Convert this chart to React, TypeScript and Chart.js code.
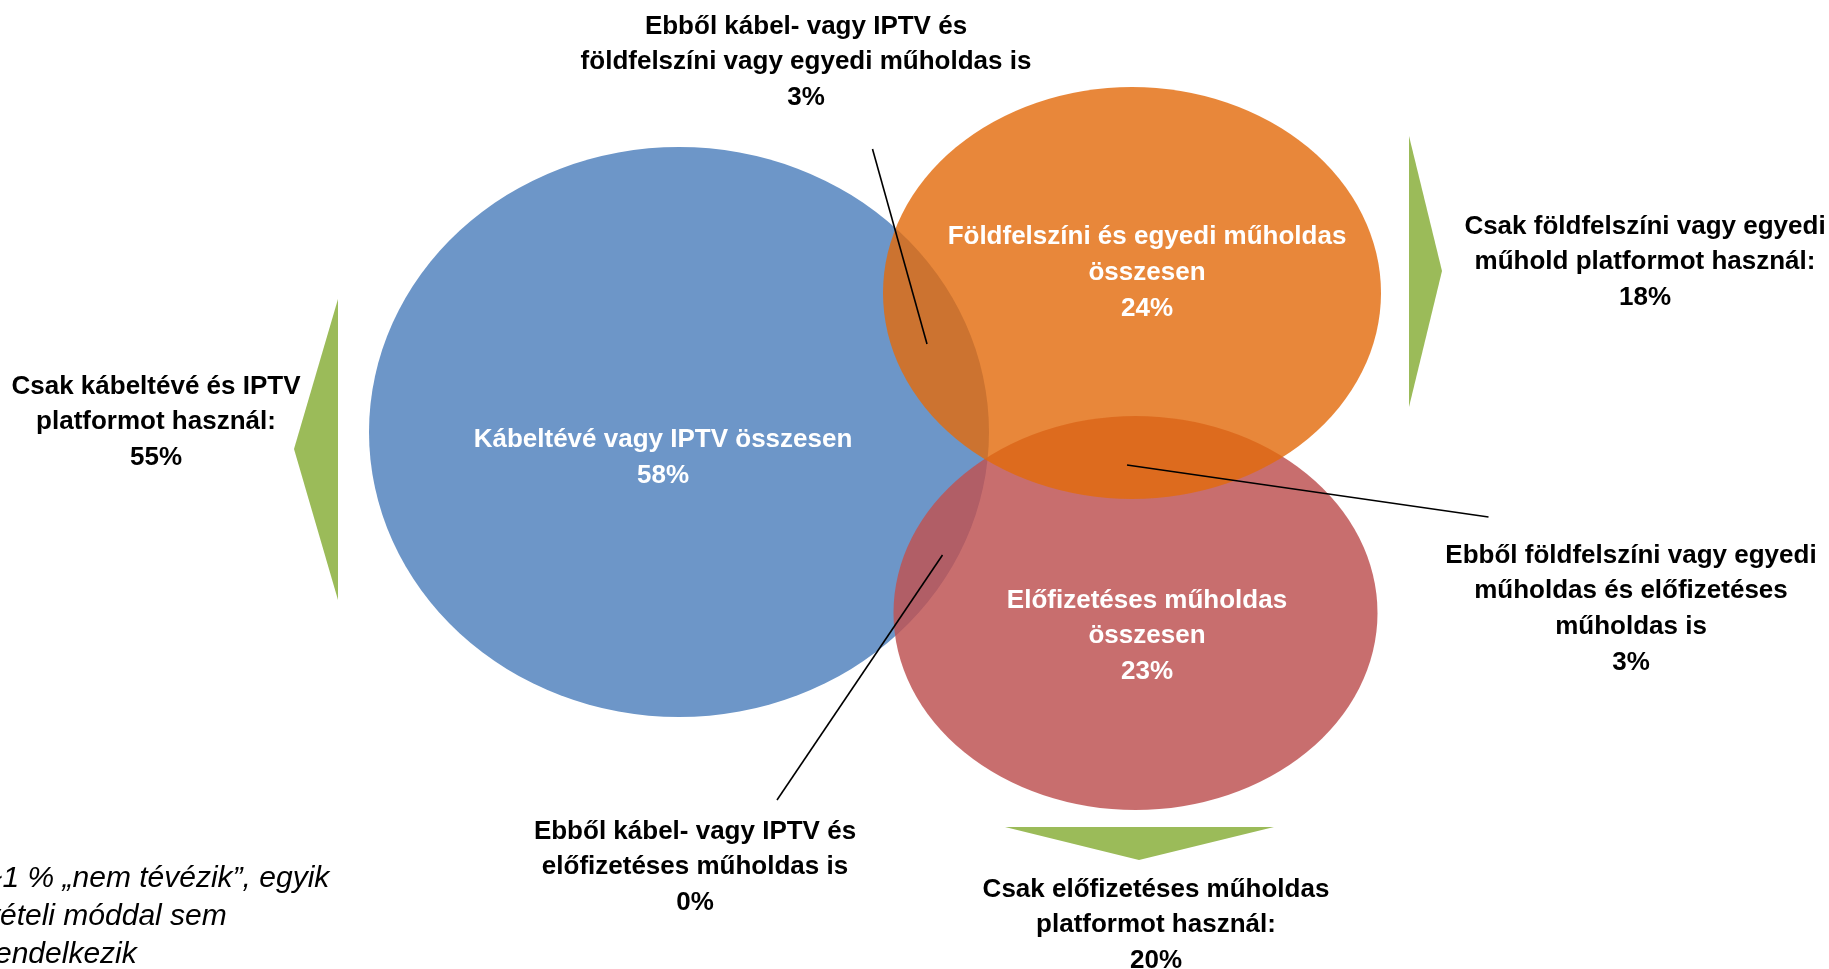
import React, { useEffect, useRef } from "react";
import { Chart, registerables } from "chart.js";
Chart.register(...registerables);

// ---------- data ----------
const setNames: string[][] = [
  ["Kábeltévé vagy IPTV összesen"],
  ["Földfelszíni és egyedi műholdas", "összesen"],
  ["Előfizetéses műholdas", "összesen"],
];
const setTotals = [58, 24, 23];

const exclusiveNames: string[][] = [
  ["Csak kábeltévé és IPTV", "platformot használ:"],
  ["Csak földfelszíni vagy egyedi", "műhold platformot használ:"],
  ["Csak előfizetéses műholdas", "platformot használ:"],
];
const exclusiveValues = [55, 18, 20];

const pairNames: string[][] = [
  ["Ebből kábel- vagy IPTV és", "földfelszíni vagy egyedi műholdas is"],
  ["Ebből földfelszíni vagy egyedi", "műholdas és előfizetéses", "műholdas is"],
  ["Ebből kábel- vagy IPTV és", "előfizetéses műholdas is"],
];
const pairValues = [3, 3, 0];

const noteLines = ["~1 % „nem tévézik”, egyik", "vételi móddal sem", "rendelkezik"];

// ---------- layout (chart units, x 0..1829, y 0..969 top-down) ----------
const W = 1829;
const H = 969;
const ellipseGeom = [
  { cx: 679, cy: 432, rx: 310, ry: 285, color: "rgb(109,150,200)" },
  { cx: 1132, cy: 293, rx: 249, ry: 206, color: "rgba(227,107,12,0.81)" },
  { cx: 1135.5, cy: 613, rx: 242, ry: 197, color: "rgba(190,83,83,0.845)" },
];
const drawOrder = [0, 2, 1];
const setLabelPos = [
  { x: 663, y: 440 },
  { x: 1147, y: 237 },
  { x: 1147, y: 600.5 },
];
const exclusiveArrows = [
  [{ x: 338, y: 299 }, { x: 294, y: 449 }, { x: 338, y: 600 }, { x: 338, y: 299 }],
  [{ x: 1409, y: 136 }, { x: 1442, y: 271 }, { x: 1409, y: 407 }, { x: 1409, y: 136 }],
  [{ x: 1005, y: 827 }, { x: 1139, y: 860 }, { x: 1274, y: 827 }, { x: 1005, y: 827 }],
];
const exclusiveLabelPos = [
  { x: 156, y: 386.5 },
  { x: 1645, y: 226.5 },
  { x: 1156, y: 889.5 },
];
const pairLeaders = [
  [{ x: 872.5, y: 149 }, { x: 927, y: 344 }],
  [{ x: 1127, y: 465 }, { x: 1488.5, y: 517 }],
  [{ x: 942.5, y: 555 }, { x: 777, y: 800 }],
];
const pairLabelPos = [
  { x: 806, y: 26.5 },
  { x: 1631, y: 555.5 },
  { x: 695, y: 831.5 },
];
const notePos = { x: -15, y: 879 };

const FONT = "'Liberation Sans', Arial, sans-serif";
const LINE_H = 35.7;

const vennPlugin = {
  id: "vennPlugin",
  beforeDatasetsDraw(chart: any) {
    const { ctx, scales } = chart;
    const xs = scales.x;
    const ys = scales.y;
    ctx.save();
    drawOrder.forEach((i) => {
      const g = ellipseGeom[i];
      const cx = xs.getPixelForValue(g.cx);
      const cy = ys.getPixelForValue(g.cy);
      const rx = Math.abs(xs.getPixelForValue(g.cx + g.rx) - cx);
      const ry = Math.abs(ys.getPixelForValue(g.cy + g.ry) - cy);
      ctx.beginPath();
      ctx.ellipse(cx, cy, rx, ry, 0, 0, Math.PI * 2);
      ctx.fillStyle = g.color;
      ctx.fill();
    });
    ctx.restore();
  },
  afterDatasetsDraw(chart: any) {
    const { ctx, scales } = chart;
    const xs = scales.x;
    const ys = scales.y;
    const block = (lines: string[], p: { x: number; y: number }, color: string) => {
      ctx.fillStyle = color;
      ctx.textAlign = "center";
      ctx.textBaseline = "middle";
      lines.forEach((t, k) => {
        ctx.fillText(t, xs.getPixelForValue(p.x), ys.getPixelForValue(p.y + k * LINE_H));
      });
    };
    ctx.save();
    ctx.font = `bold 26px ${FONT}`;
    setNames.forEach((n, i) => block([...n, `${setTotals[i]}%`], setLabelPos[i], "#ffffff"));
    exclusiveNames.forEach((n, i) => block([...n, `${exclusiveValues[i]}%`], exclusiveLabelPos[i], "#000000"));
    pairNames.forEach((n, i) => block([...n, `${pairValues[i]}%`], pairLabelPos[i], "#000000"));
    ctx.font = `italic 30px ${FONT}`;
    ctx.fillStyle = "#000000";
    ctx.textAlign = "left";
    ctx.textBaseline = "middle";
    noteLines.forEach((t, k) => {
      ctx.fillText(t, xs.getPixelForValue(notePos.x), ys.getPixelForValue(notePos.y + k * 38));
    });
    ctx.restore();
  },
};

export default function App() {
  const ref = useRef<HTMLCanvasElement>(null);
  useEffect(() => {
    document.body.style.margin = "0";
    document.body.style.overflow = "hidden";
    const datasets: any[] = [];
    exclusiveArrows.forEach((pts) =>
      datasets.push({
        data: pts,
        borderColor: "rgba(0,0,0,0)",
        borderWidth: 0,
        backgroundColor: "#9BBB59",
        fill: "shape",
        pointRadius: 0,
        tension: 0,
      })
    );
    pairLeaders.forEach((pts) =>
      datasets.push({
        data: pts,
        borderColor: "#000000",
        borderWidth: 1.6,
        fill: false,
        pointRadius: 0,
        tension: 0,
      })
    );
    const chart = new Chart(ref.current!, {
      type: "line",
      data: { datasets },
      options: {
        animation: false,
        responsive: false,
        layout: { padding: 0 },
        plugins: { legend: { display: false }, tooltip: { enabled: false }, title: { display: false } },
        events: [],
        scales: {
          x: { type: "linear", min: 0, max: W, display: false },
          y: { type: "linear", min: 0, max: H, reverse: true, display: false },
        },
      },
      plugins: [vennPlugin],
    });
    return () => chart.destroy();
  }, []);
  return <canvas ref={ref} width={W} height={H} style={{ display: "block" }} />;
}
